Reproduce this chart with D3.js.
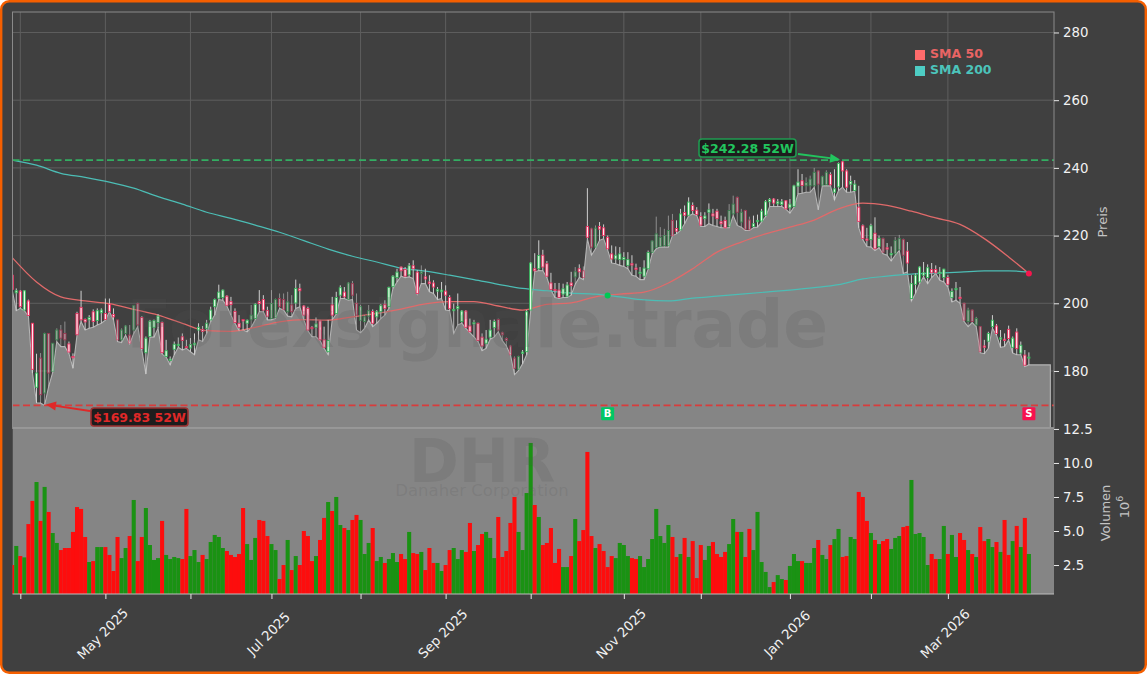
<!DOCTYPE html>
<html>
<head>
<meta charset="utf-8">
<script src="https://d3js.org/d3.v7.min.js"></script>
<style>
  html, body { margin: 0; padding: 0; background: #fff; }
  svg { display: block; }
  text { font-family: "DejaVu Sans", sans-serif; }
</style>
</head>
<body>
<div id="chart"></div>
<script>
// Daily prices, one value per trading day
const opens = [
  208.3,203.1,203.6,198.0,200.7,194.1,175.2,183.8,173.5,191.1,
  179.9,189.2,192.1,191.1,188.0,184.3,197.0,198.8,195.2,195.1,
  197.5,194.9,197.2,197.0,199.7,196.7,195.1,189.2,191.1,190.6,
  192.1,199.9,195.8,185.4,190.2,192.9,194.3,194.3,184.3,183.1,
  186.4,187.5,190.1,187.2,186.8,187.7,192.1,192.3,192.6,195.1,
  199.0,201.5,201.7,202.1,200.5,197.6,194.1,195.2,194.1,195.1,
  195.5,200.5,201.1,197.9,195.5,195.8,201.4,201.1,197.5,199.5,
  200.1,204.3,199.2,198.5,192.9,192.9,194.8,189.2,185.7,199.5,
  197.0,202.4,203.3,201.1,205.8,200.0,195.0,194.6,196.2,197.6,
  196.0,197.5,199.7,199.0,204.9,207.6,210.7,210.0,208.4,211.1,
  209.2,208.8,207.8,206.3,206.0,203.6,203.4,203.6,201.7,197.8,
  198.4,194.6,197.7,193.3,193.9,194.1,190.0,188.2,190.0,192.8,
  195.2,191.3,189.6,187.4,183.8,180.5,185.2,185.7,198.0,210.2,
  210.2,214.2,211.7,206.0,204.1,203.9,202.7,202.1,206.0,207.8,
  210.2,209.6,222.7,222.0,216.6,222.7,222.3,219.5,214.6,213.1,
  212.9,212.9,211.2,211.7,210.4,208.8,208.0,210.2,215.0,216.4,
  216.8,217.0,217.0,224.5,222.1,221.7,226.8,226.0,228.9,227.5,
  225.6,225.0,226.9,226.4,227.2,224.1,224.5,222.7,226.4,231.3,
  224.0,227.4,224.6,222.7,224.1,224.3,226.0,230.0,230.8,229.4,
  229.2,230.3,228.2,228.6,234.6,236.2,234.7,234.7,234.7,239.1,
  234.9,235.0,238.0,232.8,234.4,241.8,239.1,235.2,233.3,228.4,
  222.9,219.0,218.8,220.7,216.8,219.1,216.4,214.3,214.6,215.8,
  218.8,215.4,201.4,205.6,206.3,208.3,207.6,210.0,210.0,208.8,
  207.6,207.6,201.7,204.0,201.8,200.0,194.6,198.0,193.6,193.1,
  187.4,188.8,193.1,193.3,189.4,189.4,192.3,187.0,191.5,185.3,184.7,183.8
];
const closes = [
  204.1,203.7,199.0,203.7,196.4,180.5,179.4,173.0,191.1,179.4,
  188.2,192.1,189.7,189.2,185.6,183.9,190.7,195.1,194.5,195.8,
  194.6,197.8,198.0,195.2,197.5,196.0,189.2,192.1,193.3,188.2,
  199.3,193.6,186.7,189.7,194.7,194.9,196.2,185.4,186.0,183.5,
  187.9,187.9,189.0,186.9,187.8,188.2,192.9,191.7,194.1,198.0,
  201.1,203.3,203.9,199.4,199.6,194.3,192.9,194.8,195.0,196.5,
  199.7,199.9,198.0,196.2,199.9,201.1,199.0,198.2,200.4,197.5,
  204.4,203.7,196.5,192.1,192.5,193.9,189.2,187.0,189.0,196.5,
  201.7,204.6,201.9,206.0,202.4,196.5,199.0,196.0,197.8,194.1,
  197.5,199.4,198.5,204.7,208.0,209.2,209.6,208.0,211.1,210.2,
  202.9,209.3,207.2,205.8,204.8,204.1,203.9,202.4,198.4,198.2,
  199.0,197.7,192.9,191.6,194.3,189.0,187.4,189.4,192.1,194.6,
  192.1,190.7,189.0,184.8,180.8,184.3,185.6,197.5,211.9,209.6,
  214.1,210.7,208.0,204.1,203.7,201.7,204.3,205.4,205.2,209.3,
  209.3,207.6,219.5,216.6,222.2,221.9,220.0,216.1,213.1,214.2,
  214.6,213.5,212.9,211.3,210.0,209.2,210.4,215.0,218.4,220.5,
  219.5,220.0,221.5,220.0,221.3,226.4,226.0,229.9,227.4,226.2,
  223.1,225.8,227.6,225.8,225.0,223.5,222.3,227.4,229.3,226.9,
  226.9,221.9,221.7,223.5,224.5,227.2,230.0,230.7,229.6,230.0,
  230.0,227.9,229.3,234.7,235.8,234.8,235.7,236.7,238.7,235.2,
  237.4,238.7,235.0,233.8,241.3,239.1,234.3,236.0,235.2,224.2,
  219.1,218.6,222.9,216.1,219.2,215.1,216.0,214.7,218.6,219.1,
  214.2,211.9,205.8,208.3,210.7,209.0,210.5,209.0,209.0,209.2,
  210.1,205.6,203.5,204.4,201.4,195.0,198.0,194.6,195.5,185.7,
  187.0,191.1,195.0,191.1,189.8,189.0,189.6,189.7,186.6,187.6,181.7,184.1
];
const highs = [
  208.8,204.4,203.9,203.9,201.1,194.1,185.1,185.3,191.3,191.1,
  188.2,192.6,193.6,194.6,188.7,185.2,197.5,203.7,195.5,196.5,
  198.2,198.5,198.5,201.4,201.4,198.5,195.1,192.6,193.6,193.6,
  199.5,200.2,196.2,190.2,195.1,195.2,196.8,194.6,189.2,184.3,
  188.7,189.9,191.1,189.2,189.7,191.1,194.1,193.3,195.1,199.0,
  201.4,205.5,204.1,202.4,201.9,198.5,196.5,195.2,195.2,199.5,
  200.0,203.9,202.4,199.0,203.9,201.4,202.9,202.9,203.4,202.4,
  207.0,205.8,199.5,199.0,193.3,195.8,195.1,193.1,195.1,201.9,
  203.4,205.3,204.8,206.3,206.6,202.9,199.5,196.5,199.5,198.2,
  198.0,199.8,200.9,204.9,208.3,210.2,210.9,210.7,211.9,212.7,
  209.8,211.2,210.2,208.3,206.8,204.8,206.3,205.3,202.4,199.9,
  202.9,198.0,198.0,195.5,195.1,194.3,191.1,192.1,195.1,195.2,
  195.5,191.6,189.9,187.7,184.3,184.5,186.2,198.0,212.2,214.8,
  218.6,215.8,212.5,209.0,206.0,206.0,205.8,206.3,209.3,210.7,
  211.5,210.9,234.0,222.3,223.0,224.0,223.3,220.0,217.1,216.8,
  216.6,215.1,215.1,214.2,211.7,210.7,212.7,215.6,218.6,225.6,
  222.5,222.0,225.9,226.4,224.5,227.9,228.9,231.3,229.8,228.4,
  226.9,226.9,229.5,227.9,227.9,225.9,225.6,229.3,231.8,231.5,
  227.9,227.6,225.6,225.9,226.2,227.9,230.5,231.1,231.1,230.8,
  230.8,230.5,230.8,235.0,239.6,238.2,237.2,237.7,240.0,239.3,
  237.7,239.3,238.7,239.6,241.6,242.28,239.6,237.7,236.4,234.7,
  223.3,222.3,223.5,225.4,220.0,219.4,217.8,216.8,219.6,220.2,
  219.1,218.1,208.3,208.8,210.9,212.2,211.5,211.9,211.2,210.7,
  210.2,208.3,204.4,206.3,204.8,200.2,198.7,198.2,196.0,193.3,
  189.2,191.6,196.5,193.9,192.1,191.1,193.4,190.2,192.6,188.7,186.2,185.5
];
const lows = [
  203.9,197.8,198.5,197.8,196.2,179.4,170.6,170.5,169.83,175.4,
  179.6,188.7,187.2,187.2,185.2,180.8,190.6,194.6,192.1,192.6,
  192.9,193.6,194.1,195.0,197.5,195.1,188.7,188.4,190.6,188.0,
  191.1,193.1,186.2,179.1,190.0,190.0,192.6,185.0,184.1,181.8,
  184.8,187.0,186.2,186.7,185.7,184.8,189.2,188.7,191.1,194.6,
  196.5,201.1,200.9,199.2,196.5,194.1,191.9,192.1,191.6,192.9,
  195.1,197.5,197.5,195.1,195.1,195.5,198.5,198.0,196.2,196.0,
  198.5,199.0,195.1,191.9,190.1,190.1,189.0,186.7,184.8,195.1,
  196.8,201.4,201.4,200.9,201.1,192.1,191.3,192.6,195.1,193.1,
  194.1,195.5,196.5,198.5,204.4,206.3,208.0,207.6,207.8,207.3,
  202.7,205.8,205.8,203.4,202.9,201.1,201.4,198.0,197.8,191.1,
  193.6,194.1,192.6,191.3,190.1,188.7,186.0,186.7,189.4,190.0,
  191.6,189.0,187.4,184.8,178.9,180.1,182.1,184.8,197.8,209.3,
  209.7,209.6,207.6,203.9,201.7,201.4,201.7,201.7,202.4,205.6,
  207.6,207.0,219.0,214.2,216.1,218.6,219.1,215.8,211.9,211.7,
  211.2,210.9,210.2,208.3,208.0,207.0,207.0,210.0,214.6,216.1,
  216.6,216.6,216.6,220.0,220.5,221.5,223.5,225.8,226.4,225.9,
  222.7,222.7,223.5,223.0,222.7,222.3,222.3,222.3,225.9,223.0,
  222.5,221.5,221.5,222.3,222.5,224.0,225.6,228.6,228.6,228.6,
  228.6,227.8,226.6,228.4,232.3,232.5,232.8,232.8,234.3,227.6,
  234.7,234.7,234.7,230.5,233.3,234.3,232.8,232.8,233.1,222.3,
  218.8,216.8,216.6,215.6,216.4,214.6,214.2,212.5,214.2,215.6,
  208.8,209.3,200.7,202.9,205.8,207.8,205.8,207.6,208.8,206.8,
  206.3,204.8,200.4,200.9,200.0,194.6,193.1,194.3,193.1,185.4,
  185.1,186.7,192.6,190.6,187.0,187.2,189.2,185.3,184.8,184.8,181.3,181.8
];
// Volume in millions
const volumes = [
  2.50,3.90,3.16,3.06,5.51,7.21,8.60,5.74,8.24,6.40,
  4.85,4.12,3.60,3.75,3.75,4.93,6.76,6.62,4.56,2.72,
  2.79,3.82,3.82,3.82,3.24,2.06,4.56,3.01,3.75,4.63,
  7.28,2.79,4.56,6.69,3.97,2.87,3.01,5.74,3.24,2.94,
  3.09,3.01,2.94,6.62,3.16,3.60,2.72,3.24,2.94,4.19,
  4.71,4.56,3.75,3.53,3.24,3.09,3.31,6.69,4.04,2.87,
  4.49,5.81,5.74,4.63,4.04,3.60,1.47,2.50,4.34,2.13,
  3.16,2.50,5.00,4.63,2.79,3.16,4.34,5.96,7.13,6.47,
  7.50,5.44,5.22,5.07,5.81,6.18,5.81,3.31,4.12,5.22,
  2.79,3.09,2.65,2.94,3.38,2.72,3.31,2.94,4.93,3.38,
  3.31,3.46,2.13,3.75,2.65,2.65,2.06,2.50,3.60,3.75,
  2.94,3.60,3.46,5.59,3.53,3.97,4.78,4.93,4.49,3.01,
  6.03,3.09,3.53,5.59,7.50,4.93,3.60,7.79,11.47,6.91,
  6.03,3.97,4.12,5.22,2.65,3.68,2.35,2.35,3.16,5.88,
  4.26,5.07,10.81,4.63,3.75,4.04,3.53,2.35,3.16,3.01,
  4.12,3.97,3.16,3.01,2.94,3.16,2.35,2.94,4.41,6.62,
  4.63,4.12,5.44,4.56,3.09,3.31,4.49,3.09,4.26,1.54,
  3.97,2.87,3.90,4.19,3.31,3.09,3.46,4.04,5.88,4.93,
  4.93,3.09,5.15,3.60,6.40,2.72,1.99,0.88,1.25,1.76,
  1.47,1.40,2.43,3.31,2.79,2.79,2.65,2.65,3.75,4.34,
  3.24,2.94,3.97,4.41,5.15,3.09,3.16,4.56,4.41,7.87,
  7.50,5.74,4.85,4.34,4.04,4.26,4.41,3.68,4.49,4.63,
  5.29,5.37,8.75,4.78,4.85,4.56,2.50,3.31,2.94,2.94,
  5.37,3.31,4.71,3.09,4.85,4.34,3.60,3.31,3.09,5.29,
  4.26,4.41,3.82,4.19,3.46,5.81,3.24,4.26,5.37,3.82,5.96,3.31
];
// Days that look washed out in the picture
const fadedBars = [7,8,9,10,11,12,13,26,27,28,29,30,31,59,64,65,66,67,68,69,83,84,85,86,87,88,101,
  120,121,122,123,124,125,139,141,143,144,158,159,160,161,162,163,177,178,179,180,181,182,
  196,197,198,199,200,201,215,218,219,220,235,236,237,238,239];

// Moving averages, sampled at these bars
const smaBars = [0,6,12,18,24,30,36,42,48,54,60,66,72,78,84,90,96,102,108,114,120,126,132,138,
  144,150,156,162,168,174,180,186,192,198,204,210,216,222,228,234,240,246,251];
const sma50 = [213.5,206.3,201.9,200.7,199.9,198.2,196.5,194.1,191.9,191.7,192.9,194.5,195.2,195.0,196.0,197.0,198.3,
  199.8,200.5,200.5,199.2,198.0,199.7,200.1,201.9,202.7,203.3,206.0,210.2,215.1,218.1,220.5,222.5,224.6,227.9,229.6,
  228.9,227.2,225.2,223.3,219.1,213.7,208.8];
const sma200 = [242.3,240.8,238.4,237.2,235.8,234.0,231.5,229.3,226.9,225.1,223.1,221.0,218.5,216.0,213.9,212.2,210.4,
  209.5,208.3,207.0,205.6,204.4,203.7,203.0,202.7,201.9,201.0,200.7,201.5,202.1,202.7,203.3,203.9,204.6,205.5,207.2,
  208.0,208.6,208.9,209.2,209.6,209.6,209.2];

const monthBars = [2,23,44,64,86,107,128,151,170,192,212,231];
const monthLabels = ["","May 2025","","Jul 2025","","Sep 2025","","Nov 2025","","Jan 2026","","Mar 2026"];
const priceTicks = [180,200,220,240,260,280];
const volumeTicks = [2.5,5,7.5,10,12.5];

const high52 = 242.28, low52 = 169.83;
const buyBar = 147, sellBar = 251, crossPrice = 202.3, deathPrice = 208.8, signalPrice = 167.4;

const W = 1147, H = 674;
const plotLeft = 12.5, plotRight = 1054, priceTop = 12, priceBottom = 428, volBottom = 594;

const svg = d3.select("#chart").append("svg").attr("width", W).attr("height", H);

// Scales
const x = d3.scaleLinear().domain([0.07, 257.2]).range([plotLeft, plotRight]);
const yPrice = d3.scaleLinear().domain([163.16, 286.05]).range([priceBottom, priceTop]);
const yVol = d3.scaleLinear().domain([0.37, 12.57]).range([volBottom, priceBottom]);

// Card with orange edge
svg.append("rect").attr("x", 1.2).attr("y", 1.2).attr("width", W - 2.4).attr("height", H - 2.4)
  .attr("rx", 8).attr("fill", "#404040").attr("stroke", "#f55f00").attr("stroke-width", 2.4);

const defs = svg.append("defs");
defs.append("clipPath").attr("id", "plot-clip").append("rect")
  .attr("x", plotLeft).attr("y", priceTop).attr("width", plotRight - plotLeft).attr("height", volBottom - priceTop);

// Grid
const grid = svg.append("g").attr("stroke", "#5e5e5e").attr("stroke-width", 1);
grid.selectAll(".gx").data(monthBars).enter().append("line")
  .attr("x1", d => x(d)).attr("x2", d => x(d)).attr("y1", priceTop).attr("y2", priceBottom);
grid.selectAll(".gy").data(priceTicks).enter().append("line")
  .attr("x1", plotLeft).attr("x2", plotRight).attr("y1", d => yPrice(d)).attr("y2", d => yPrice(d));

const plot = svg.append("g").attr("clip-path", "url(#plot-clip)");

// Volume panel background, then price area on lows
plot.append("rect").attr("x", plotLeft).attr("y", priceBottom)
  .attr("width", plotRight - plotLeft).attr("height", volBottom - priceBottom).attr("fill", "#858585");

const areaBars = d3.range(lows.length).concat([256.3]);
const lowAt = i => i < lows.length ? lows[i] : lows[lows.length - 1];
plot.append("path").datum(areaBars)
  .attr("fill", "#858585").attr("stroke", "#b4b4b4").attr("stroke-width", 1.1)
  .attr("d", d3.area().x(d => x(d)).y0(priceBottom).y1(d => yPrice(lowAt(d))));

// Watermarks
const mark = svg.append("g").attr("fill", "#555").attr("fill-opacity", 0.18);
mark.append("text").attr("x", 828).attr("y", 347).attr("text-anchor", "end")
  .attr("font-size", 66).attr("font-weight", "bold").text("Forexsignale.trade");
mark.append("text").attr("x", 482).attr("y", 482).attr("text-anchor", "middle")
  .attr("font-size", 60).attr("font-weight", "bold").text("DHR");
mark.append("text").attr("x", 482).attr("y", 496).attr("text-anchor", "middle")
  .attr("font-size", 16.5).text("Danaher Corporation");

// Panel divider
svg.append("line").attr("x1", plotLeft).attr("x2", plotRight).attr("y1", priceBottom).attr("y2", priceBottom)
  .attr("stroke", "#a8a8a8").attr("stroke-width", 1.5);

// Volume bars
plot.selectAll(".vol").data(volumes).enter().append("rect")
  .attr("x", (d, i) => x(i) - 2.03).attr("width", 4.06)
  .attr("y", d => yVol(d)).attr("height", d => volBottom - yVol(d))
  .attr("fill", (d, i) => closes[i] >= opens[i] ? "#1a9213" : "#fd0d0d");

// 52 week lines
const levels = svg.append("g").attr("stroke-width", 1.7).attr("stroke-dasharray", "7 3.5");
levels.append("line").attr("x1", plotLeft).attr("x2", plotRight).attr("y1", yPrice(high52)).attr("y2", yPrice(high52))
  .attr("stroke", "#33ad62");
levels.append("line").attr("x1", plotLeft).attr("x2", plotRight).attr("y1", yPrice(low52)).attr("y2", yPrice(low52))
  .attr("stroke", "#d83c3c");

// Moving averages
const smaLine = d3.line().x((d, i) => x(smaBars[i])).y(d => yPrice(d)).curve(d3.curveMonotoneX);
plot.append("path").datum(sma50).attr("fill", "none").attr("stroke", "#e06a6a").attr("stroke-width", 1.3).attr("d", smaLine);
plot.append("path").datum(sma200).attr("fill", "none").attr("stroke", "#4cbdb5").attr("stroke-width", 1.2).attr("d", smaLine);

// Candles
const candles = plot.selectAll(".candle").data(opens).enter().append("g")
  .attr("opacity", (d, i) => fadedBars.includes(i) ? 0.55 : 1);
candles.append("line")
  .attr("x1", (d, i) => x(i)).attr("x2", (d, i) => x(i))
  .attr("y1", (d, i) => yPrice(highs[i])).attr("y2", (d, i) => yPrice(lows[i]))
  .attr("stroke", "#cfcfcf").attr("stroke-width", 1);
candles.append("rect")
  .attr("x", (d, i) => x(i) - 1.1).attr("width", 2.2)
  .attr("y", (d, i) => yPrice(Math.max(opens[i], closes[i])))
  .attr("height", (d, i) => Math.max(0.6, Math.abs(yPrice(opens[i]) - yPrice(closes[i]))))
  .attr("fill", (d, i) => closes[i] >= opens[i] ? "#e8fbe9" : "#ffe8ee")
  .attr("stroke", (d, i) => closes[i] >= opens[i] ? "#35b45a" : "#e8305f")
  .attr("stroke-width", 0.9);

// Signal dots and badges
svg.append("circle").attr("cx", x(buyBar)).attr("cy", yPrice(crossPrice)).attr("r", 3).attr("fill", "#00c853");
svg.append("circle").attr("cx", x(sellBar)).attr("cy", yPrice(deathPrice)).attr("r", 3).attr("fill", "#f5164d");

function badge(bar, label, color) {
  const g = svg.append("g").attr("transform", `translate(${x(bar)},${yPrice(signalPrice)})`);
  g.append("rect").attr("x", -6.5).attr("y", -6.5).attr("width", 13).attr("height", 13).attr("rx", 1).attr("fill", color);
  g.append("text").attr("text-anchor", "middle").attr("y", 3.5).attr("font-size", 10)
    .attr("font-weight", "bold").attr("fill", "#fff").text(label);
}
badge(buyBar, "B", "#00c765");
badge(sellBar, "S", "#f7114f");

// 52 week annotations
function note(boxX, boxY, boxW, boxH, label, color, border, from, to) {
  const a = Math.atan2(to[1] - from[1], to[0] - from[0]);
  const tip = [to[0] - 10 * Math.cos(a), to[1] - 10 * Math.sin(a)];
  svg.append("line").attr("x1", from[0]).attr("y1", from[1]).attr("x2", tip[0]).attr("y2", tip[1])
    .attr("stroke", color).attr("stroke-width", 1.8);
  svg.append("path").attr("fill", color).attr("d", d3.line()([
    to,
    [tip[0] - 4.5 * Math.sin(a), tip[1] + 4.5 * Math.cos(a)],
    [tip[0] + 4.5 * Math.sin(a), tip[1] - 4.5 * Math.cos(a)]
  ]) + "Z");
  svg.append("rect").attr("x", boxX).attr("y", boxY).attr("width", boxW).attr("height", boxH).attr("rx", 3)
    .attr("fill", "#1d1d1d").attr("stroke", border).attr("stroke-width", 1.6);
  svg.append("text").attr("x", boxX + boxW / 2).attr("y", boxY + boxH / 2 + 4.5).attr("text-anchor", "middle")
    .attr("font-size", 12.5).attr("font-weight", "bold").attr("fill", color).text(label);
}
note(699, 139, 97, 18, "$242.28 52W", "#22c55e", "#1f9a50", [798, 154], [840, 159.5]);
note(91, 408, 97, 18, "$169.83 52W", "#e02828", "#9c2f2f", [90, 411], [46, 404.5]);

// Legend
const legend = svg.append("g");
legend.append("rect").attr("x", 915).attr("y", 50).attr("width", 10).attr("height", 10).attr("fill", "#ff6b6b");
legend.append("rect").attr("x", 915).attr("y", 66).attr("width", 10).attr("height", 10).attr("fill", "#4ecdc4");
legend.append("text").attr("x", 930).attr("y", 58).attr("font-size", 12.5).attr("font-weight", "bold").attr("fill", "#e96464").text("SMA 50");
legend.append("text").attr("x", 930).attr("y", 74).attr("font-size", 12.5).attr("font-weight", "bold").attr("fill", "#4cc4bb").text("SMA 200");

// Spines
svg.append("rect").attr("x", plotLeft).attr("y", priceTop).attr("width", plotRight - plotLeft).attr("height", priceBottom - priceTop)
  .attr("fill", "none").attr("stroke", "#8a8a8a").attr("stroke-width", 1);
svg.append("line").attr("x1", plotLeft).attr("x2", plotRight).attr("y1", volBottom).attr("y2", volBottom)
  .attr("stroke", "#bdbdbd").attr("stroke-width", 1);

// Axes
function styleAxis(g) {
  g.select(".domain").remove();
  g.selectAll("line").attr("stroke", "#e8e8e8").attr("stroke-width", 1);
  g.selectAll("text").attr("fill", "#f2f2f2").attr("font-size", 13.3);
}
svg.append("g").attr("transform", `translate(${plotRight},0)`)
  .call(d3.axisRight(yPrice).tickValues(priceTicks).tickSize(5).tickPadding(4)).call(styleAxis);
svg.append("g").attr("transform", `translate(${plotRight},0)`)
  .call(d3.axisRight(yVol).tickValues(volumeTicks).tickFormat(d3.format(".1f")).tickSize(5).tickPadding(4)).call(styleAxis);

const xAxis = svg.append("g").attr("transform", `translate(0,${volBottom})`)
  .call(d3.axisBottom(x).tickValues(monthBars).tickFormat((d, i) => monthLabels[i]).tickSize(5)).call(styleAxis);
xAxis.selectAll("text").attr("text-anchor", "middle").attr("dy", null).attr("y", 0)
  .attr("transform", "translate(0,43) rotate(-45)");

// Axis titles
svg.append("text").attr("transform", "translate(1107,222) rotate(-90)").attr("text-anchor", "middle")
  .attr("font-size", 13).attr("fill", "#c4c4c4").text("Preis");
svg.append("text").attr("transform", "translate(1110,513) rotate(-90)").attr("text-anchor", "middle")
  .attr("font-size", 13).attr("fill", "#c4c4c4").text("Volumen");
const power = svg.append("text").attr("transform", "translate(1129,507) rotate(-90)").attr("text-anchor", "middle")
  .attr("font-size", 13).attr("fill", "#c4c4c4");
power.append("tspan").text("10");
power.append("tspan").attr("dy", -6).attr("font-size", 9.5).text("6");
</script>
</body>
</html>
